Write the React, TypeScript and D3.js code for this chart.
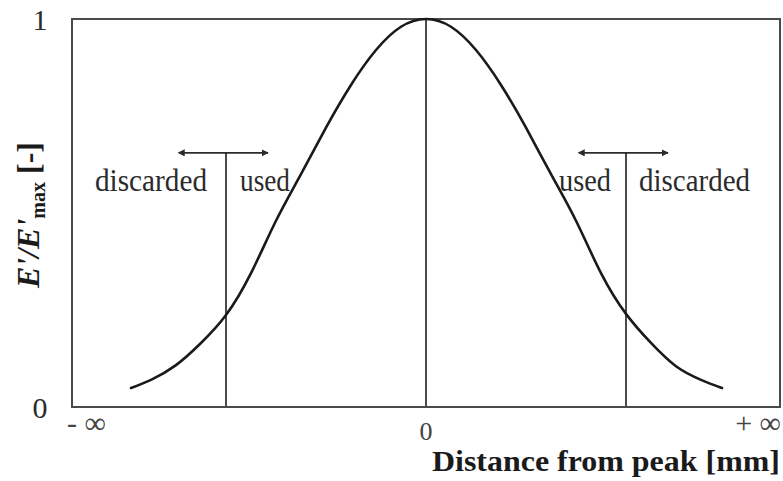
import { useRef, useEffect } from 'react';
import * as d3 from 'd3';

// curve (distance from peak in arbitrary units, E'/E'max)
const distances = [-2.95, -2.75, -2.5, -2.25, -2.0, -1.75, -1.5, -1.25, -1.0, -0.75, -0.5, -0.25, 0,
  0.25, 0.5, 0.75, 1.0, 1.25, 1.5, 1.75, 2.0, 2.25, 2.5, 2.75, 2.96];
const ratios = [0.049, 0.07, 0.108, 0.165, 0.237, 0.345, 0.48, 0.6, 0.72, 0.83, 0.92, 0.98, 1,
  0.98, 0.92, 0.83, 0.72, 0.6, 0.48, 0.345, 0.24, 0.165, 0.105, 0.07, 0.049];

const cutoffs = [-2.0, 2.0];
const arrowHalf = 0.42;
const cutoffLevel = 0.655;
const yTicks = [0, 1];
const xTickLabels = [
  { value: -3.54, label: '- \u221E', anchor: 'start' },
  { value: 0, label: '0', anchor: 'middle' },
  { value: 3.54, label: '+ \u221E', anchor: 'end' },
];

const WIDTH = 783;
const HEIGHT = 481;
const FONT = '"Liberation Serif", "Times New Roman", serif';
const INK = '#2b2b2b';

function App() {
  const ref = useRef<SVGSVGElement>(null);

  useEffect(() => {
    const svg = d3.select(ref.current);
    svg.selectAll('*').remove();

    const x = d3.scaleLinear().domain([-3.54, 3.54]).range([72, 780]);
    const y = d3.scaleLinear().domain([0, 1]).range([407, 19]);

    const defs = svg.append('defs');
    ['start', 'end'].forEach(kind => {
      defs.append('marker')
        .attr('id', `arrow-${kind}`)
        .attr('viewBox', '0 0 10 10')
        .attr('refX', kind === 'end' ? 9 : 1)
        .attr('refY', 5)
        .attr('markerWidth', 4)
        .attr('markerHeight', 4)
        .attr('markerUnits', 'strokeWidth')
        .attr('orient', 'auto-start-reverse')
        .append('path')
        .attr('d', 'M0,0 L10,5 L0,10 z')
        .attr('fill', INK);
    });

    // frame
    svg.append('rect')
      .attr('x', x(-3.54))
      .attr('y', y(1))
      .attr('width', x(3.54) - x(-3.54))
      .attr('height', y(0) - y(1))
      .attr('fill', 'none')
      .attr('stroke', '#4a4a4a')
      .attr('stroke-width', 2);

    // peak line
    svg.append('line')
      .attr('x1', x(0)).attr('x2', x(0))
      .attr('y1', y(1)).attr('y2', y(0))
      .attr('stroke', '#4a4a4a')
      .attr('stroke-width', 2);

    // cutoff markers with arrows
    cutoffs.forEach(c => {
      svg.append('line')
        .attr('x1', x(c)).attr('x2', x(c))
        .attr('y1', y(cutoffLevel)).attr('y2', y(0))
        .attr('stroke', '#4a4a4a')
        .attr('stroke-width', 2);
      svg.append('line')
        .attr('x1', x(c - arrowHalf)).attr('x2', x(c + arrowHalf))
        .attr('y1', y(cutoffLevel)).attr('y2', y(cutoffLevel))
        .attr('stroke', INK)
        .attr('stroke-width', 1.8)
        .attr('marker-start', 'url(#arrow-start)')
        .attr('marker-end', 'url(#arrow-end)');
    });

    const labelY = y(cutoffLevel) + 38;
    const labels = [
      { text: 'discarded', x: x(cutoffs[0]) - 19, anchor: 'end', len: 112 },
      { text: 'used', x: x(cutoffs[0]) + 14, anchor: 'start', len: 50 },
      { text: 'used', x: x(cutoffs[1]) - 15, anchor: 'end', len: 52 },
      { text: 'discarded', x: x(cutoffs[1]) + 13, anchor: 'start', len: 111 },
    ];
    labels.forEach(l => {
      svg.append('text')
        .attr('x', l.x)
        .attr('y', labelY)
        .attr('text-anchor', l.anchor)
        .attr('font-family', FONT)
        .attr('font-size', 31)
        .attr('fill', INK)
        .attr('textLength', l.len)
        .attr('lengthAdjust', 'spacingAndGlyphs')
        .text(l.text);
    });

    // the curve
    const points = distances.map((d, i) => [d, ratios[i]] as [number, number]);
    const line = d3.line<[number, number]>()
      .x(d => x(d[0]))
      .y(d => y(d[1]))
      .curve(d3.curveNatural);
    svg.append('path')
      .datum(points)
      .attr('d', line)
      .attr('fill', 'none')
      .attr('stroke', '#1a1a1a')
      .attr('stroke-width', 2.6)
      .attr('stroke-linecap', 'round');

    // y tick labels
    svg.selectAll('text.ytick')
      .data(yTicks)
      .join('text')
      .attr('class', 'ytick')
      .attr('x', 40)
      .attr('y', d => y(d) + 11)
      .attr('text-anchor', 'middle')
      .attr('font-family', FONT)
      .attr('font-size', 30)
      .attr('fill', INK)
      .text(d => d);

    // x tick labels
    svg.selectAll('text.xtick')
      .data(xTickLabels)
      .join('text')
      .attr('class', 'xtick')
      .attr('x', d => d.anchor === 'start' ? x(d.value) - 5 : x(d.value) + (d.anchor === 'end' ? 1 : 0))
      .attr('y', d => d.value === 0 ? 440 : 433)
      .attr('text-anchor', d => d.anchor)
      .attr('font-family', FONT)
      .attr('font-size', d => d.value === 0 ? 26 : 30)
      .attr('fill', '#444')
      .text(d => d.label);

    // x axis title
    svg.append('text')
      .attr('x', 780)
      .attr('y', 471)
      .attr('text-anchor', 'end')
      .attr('font-family', FONT)
      .attr('font-weight', 'bold')
      .attr('font-size', 30)
      .attr('fill', '#1a1a1a')
      .attr('textLength', 348)
      .attr('lengthAdjust', 'spacingAndGlyphs')
      .text('Distance from peak [mm]');

    // y axis title
    const yt = svg.append('text')
      .attr('transform', 'translate(39, 215) rotate(-90)')
      .attr('text-anchor', 'middle')
      .attr('font-family', FONT)
      .attr('font-weight', 'bold')
      .attr('font-size', 32)
      .attr('fill', '#1a1a1a');
    yt.append('tspan').attr('font-style', 'italic').text("E'/E'");
    yt.append('tspan').attr('font-size', 20).attr('dy', 6).text('max');
    yt.append('tspan').attr('dy', -6).text(' [-]');
  }, []);

  return (
    <svg
      ref={ref}
      width={WIDTH}
      height={HEIGHT}
      style={{ position: 'absolute', left: 0, top: 0, background: '#fff' }}
    />
  );
}

export default App;
